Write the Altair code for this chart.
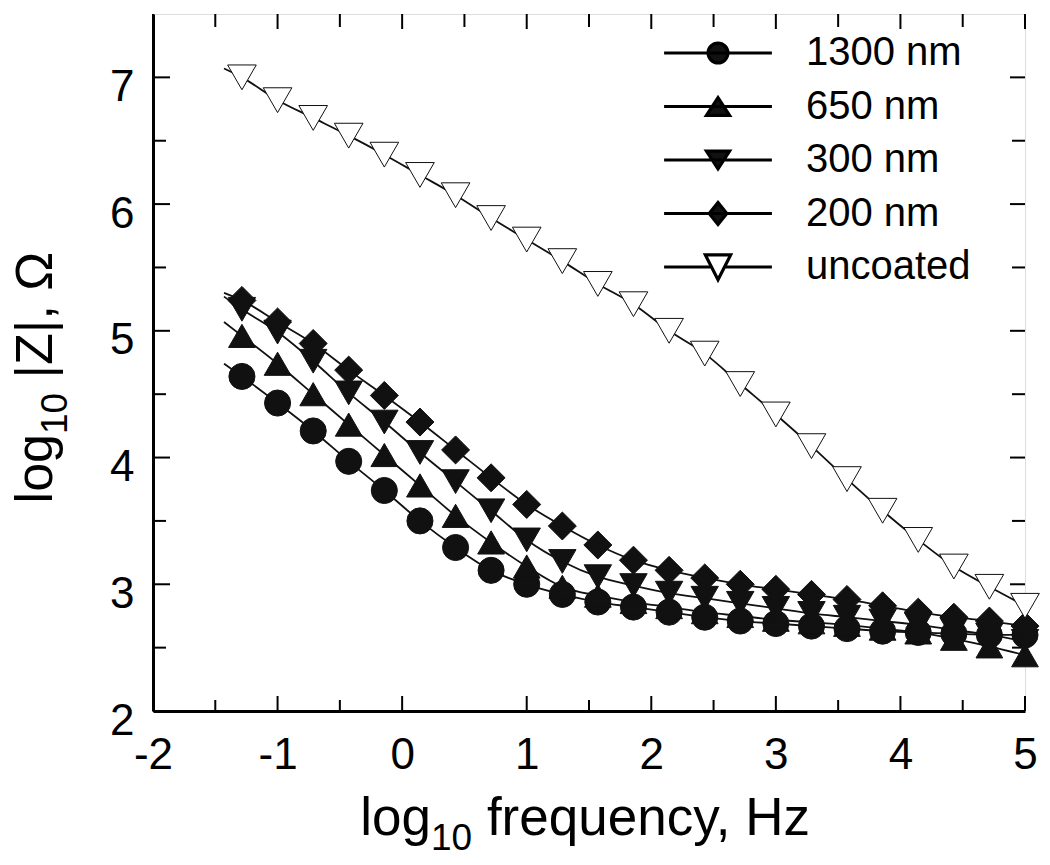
import altair as alt
import pandas as pd

FONT = "Liberation Sans"

series = ["1300 nm", "650 nm", "300 nm", "200 nm", "uncoated"]

log_freq = [-1.286, -1.0, -0.714, -0.429, -0.143, 0.143, 0.429, 0.714, 1.0, 1.286,
            1.571, 1.857, 2.143, 2.429, 2.714, 3.0, 3.286, 3.571, 3.857, 4.143,
            4.429, 4.714, 5.0]

z_1300 = [4.64, 4.43, 4.21, 3.97, 3.74, 3.50, 3.29, 3.11, 3.00, 2.92, 2.86, 2.82,
          2.78, 2.74, 2.71, 2.69, 2.67, 2.65, 2.63, 2.62, 2.61, 2.60, 2.60]
z_650 = [4.96, 4.74, 4.50, 4.26, 4.02, 3.78, 3.54, 3.33, 3.14, 2.98, 2.91, 2.86,
         2.82, 2.78, 2.75, 2.72, 2.70, 2.68, 2.65, 2.62, 2.57, 2.51, 2.44]
z_300 = [5.17, 4.99, 4.76, 4.51, 4.28, 4.04, 3.81, 3.58, 3.35, 3.18, 3.06, 2.99,
         2.93, 2.89, 2.85, 2.81, 2.77, 2.74, 2.71, 2.68, 2.64, 2.60, 2.55]
z_200 = [5.24, 5.07, 4.90, 4.69, 4.49, 4.28, 4.06, 3.84, 3.63, 3.46, 3.31, 3.19,
         3.11, 3.05, 3.00, 2.96, 2.92, 2.88, 2.83, 2.78, 2.74, 2.71, 2.67]
z_uncoated = [7.00, 6.82, 6.68, 6.54, 6.39, 6.23, 6.07, 5.89, 5.72, 5.55, 5.37, 5.21,
              5.00, 4.82, 4.58, 4.34, 4.09, 3.83, 3.58, 3.35, 3.14, 2.98, 2.83]

# fitted curves start slightly before the first measured point
fit_start_x = -1.43
fit_start_z = [4.74, 5.07, 5.27, 5.30, 7.07]

x_major = [-2, -1, 0, 1, 2, 3, 4, 5]
x_minor_bottom = [-1.5, -0.5, 1.5, 2.5, 3.5, 4.5]
x_minor_top = [-1.5, -0.5, 0.5, 1.5, 2.5, 3.5, 4.5]
y_major = [2, 3, 4, 5, 6, 7]
y_minor = [2.5, 3.5, 4.5, 5.5, 6.5]

# axis titles: base text, subscript, rest (a word space follows the subscript)
x_title_parts = ["log", "10", "frequency, Hz"]
y_title_parts = ["log", "10", "|Z|, \u03a9"]

all_z = [z_1300, z_650, z_300, z_200, z_uncoated]

pts_rows, line_rows = [], []
for s, zs, z0 in zip(series, all_z, fit_start_z):
    line_rows.append({"series": s, "f": fit_start_x, "z": z0})
    for f, z in zip(log_freq, zs):
        pts_rows.append({"series": s, "f": f, "z": z})
        line_rows.append({"series": s, "f": f, "z": z})
pts = pd.DataFrame(pts_rows)
lines_df = pd.DataFrame(line_rows)

W, H = 872, 697

xscale = alt.Scale(domain=[-2, 5], nice=False, zero=False)
yscale = alt.Scale(domain=[2, 7.5], nice=False, zero=False)

x_axis = alt.Axis(values=x_major, labelExpr="'' + datum.value", ticks=False, tickSize=0,
                  grid=False, domain=True, domainWidth=3, domainColor="black",
                  labelFont=FONT, labelFontSize=44, labelColor="black", labelPadding=22,
                  labelFlush=False, labelOverlap=False, title=None)
y_axis = alt.Axis(values=y_major, labelExpr="'' + datum.value", ticks=False, tickSize=0,
                  grid=False, domain=True, domainWidth=3, domainColor="black",
                  labelFont=FONT, labelFontSize=44, labelColor="black", labelPadding=19,
                  labelOffset=10, labelFlush=False, labelOverlap=False, title=None)


def X(field):
    return alt.X(field, type="quantitative", scale=xscale, axis=x_axis)


def Y(field):
    return alt.Y(field, type="quantitative", scale=yscale, axis=y_axis)


lines = alt.Chart(lines_df).mark_line(color="#111", strokeWidth=1.8, interpolate="monotone").encode(
    x=X("f"), y=Y("z"), detail="series:N"
)

points = alt.Chart(pts).mark_point(filled=True, stroke="#111", strokeWidth=1, opacity=1).encode(
    x=X("f"), y=Y("z"),
    shape=alt.Shape("series:N", scale=alt.Scale(domain=series,
                    range=["circle", "triangle-up", "triangle-down", "diamond", "triangle-down"]),
                    legend=None),
    fill=alt.Fill("series:N", scale=alt.Scale(domain=series,
                  range=["#111", "#111", "#111", "#111", "white"]), legend=None),
    size=alt.Size("series:N", scale=alt.Scale(domain=series, range=[680, 820, 820, 760, 900]),
                  legend=None),
)

LINE = "M-4.9,0H4.9"
legend_paths = [
    LINE + "M0.9,0A0.9,0.9,0,1,1,-0.9,0A0.9,0.9,0,1,1,0.9,0Z",
    LINE + "M0,-0.8L1.05,0.8L-1.05,0.8Z",
    LINE + "M0,0.8L1.05,-0.8L-1.05,-0.8Z",
    LINE + "M0,-1.0L0.8,0L0,1.0L-0.8,0Z",
    "M-4.9,0H-0.59M0.59,0H4.9M0,1.15L1.15,-1.1L-1.15,-1.1Z",
]

leg = alt.Legend(title=None, orient="none", legendX=545, legendY=19, padding=0,
                 labelFont=FONT, labelFontSize=40, labelColor="black", labelLimit=500,
                 labelOffset=68, rowPadding=13.5, symbolSize=484, symbolStrokeWidth=3.2,
                 symbolOpacity=1)

legend_layer = alt.Chart(pts).mark_point(filled=True, opacity=0, strokeWidth=3.2).encode(
    x=X("f"), y=Y("z"),
    shape=alt.Shape("series:N", scale=alt.Scale(domain=series, range=legend_paths), legend=leg),
    fill=alt.Fill("series:N", scale=alt.Scale(domain=series,
                  range=["#111", "#111", "#111", "#111", "white"]), legend=leg),
    stroke=alt.Stroke("series:N", scale=alt.Scale(domain=series,
                      range=["black", "black", "black", "black", "black"]), legend=leg),
)


def vticks(vals, y1, y2):
    return alt.Chart(pd.DataFrame({"v": vals})).mark_rule(color="black", strokeWidth=2).encode(
        x=X("v"), y=alt.value(y1), y2=alt.value(y2))


def hticks(vals, x1, x2):
    return alt.Chart(pd.DataFrame({"v": vals})).mark_rule(color="black", strokeWidth=2).encode(
        y=Y("v"), x=alt.value(x1), x2=alt.value(x2))


ticks = [
    vticks(x_major, H, H - 15), vticks(x_minor_bottom, H, H - 11),
    vticks(x_major, 0, 15), vticks(x_minor_top, 0, 13),
    hticks(y_major, 0, 17), hticks(y_minor, 0, 13),
    hticks(y_major, W, W - 15), hticks(y_minor, W, W - 13),
]


def title_text(txt, px, py, size, align, angle=0):
    return alt.Chart(pd.DataFrame({"t": [txt]})).mark_text(
        font=FONT, fontSize=size, color="black", align=align, baseline="alphabetic",
        angle=angle).encode(text="t:N", x=alt.value(px), y=alt.value(py))


SUB = 37
sub_w = 2 * 0.556 * SUB
XT, YT = 53, 52
# x-axis title (plot coordinates)
xt_anchor, xt_base = 278, 821
x_title = [
    title_text(x_title_parts[0], xt_anchor, xt_base, XT, "right"),
    title_text(x_title_parts[1], xt_anchor, xt_base + 15, SUB, "left"),
    title_text(x_title_parts[2], xt_anchor + sub_w + 0.278 * XT, xt_base, XT, "left"),
]
# y-axis title, rotated
yt_base, yt_anchor = -101, 420
y_title = [
    title_text(y_title_parts[0], yt_base, yt_anchor, YT, "right", 270),
    title_text(y_title_parts[1], yt_base + 15, yt_anchor, SUB, "left", 270),
    title_text(y_title_parts[2], yt_base, yt_anchor - sub_w - 0.278 * YT, YT, "left", 270),
]

chart = alt.layer(*ticks, lines, points, legend_layer, *x_title, *y_title).resolve_scale(
    shape="independent", fill="independent", size="independent", stroke="independent"
).properties(
    width=W, height=H,
    autosize=alt.AutoSizeParams(type="none"),
    padding={"left": 145, "top": 6, "right": 15, "bottom": 140},
).configure_view(stroke="black", strokeWidth=2.5).configure(background="white")

chart.save("out.html", embed_options={"renderer": "svg", "actions": False})
